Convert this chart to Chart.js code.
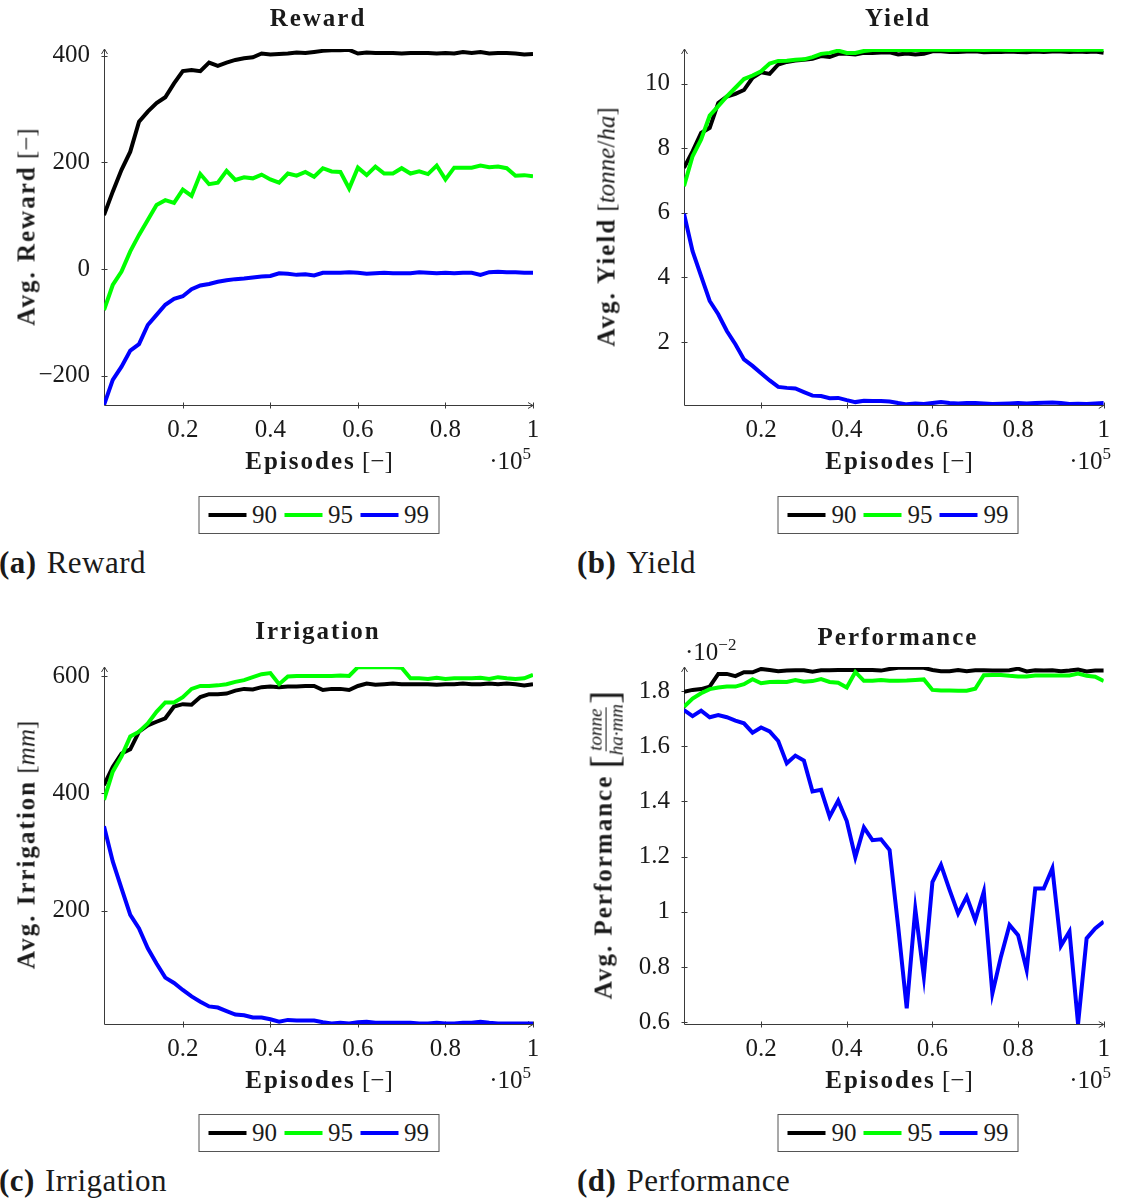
<!DOCTYPE html>
<html>
<head>
<meta charset="utf-8">
<script src="https://cdn.jsdelivr.net/npm/chart.js@4.4.1/dist/chart.umd.min.js"></script>
<style>
  body { margin: 0; background: #fff; width: 1121px; height: 1198px; position: relative; overflow: hidden;
         font-family: "Liberation Serif", "DejaVu Serif", serif; color: #1a1a1a; }
  canvas { position: absolute; }
  .t { position: absolute; white-space: nowrap; line-height: 1; font-size: 25px; }
  .c { transform: translate(-50%, -50%); }
  .b { font-weight: bold; letter-spacing: 2px; }
  .rot { transform: translate(-50%, -50%) rotate(-90deg); }
  .r { transform: translate(-100%, -50%); }
  .l { transform: translate(0, -50%); }
  sup { font-size: 17px; vertical-align: 10px; line-height: 0; }
  .legend { position: absolute; transform: translateX(-50%); border: 1px solid #555; background: #fff; height: 38px;
            box-sizing: border-box; display: flex; align-items: center; padding: 0 9px; font-size: 25px; white-space: nowrap; }
  .legend .sw { width: 38px; height: 4px; margin-right: 6px; }
  .legend .lb { margin-right: 7px; }
  .legend .lb:last-child { margin-right: 0; }
  .cap { position: absolute; font-size: 31px; line-height: 1; transform: translateY(-50%); white-space: nowrap; letter-spacing: 0.5px; }
  .cap b { margin-right: 10px; }
  .frac { display: inline-flex; flex-direction: column; align-items: center; font-size: 19px; font-style: italic;
          vertical-align: middle; line-height: 1.05; }
  .frac span:first-child { border-bottom: 1px solid #1a1a1a; padding: 0 1px; }
  .big { font-size: 40px; vertical-align: middle; font-weight: 300; }
</style>
</head>
<body>

<!-- (a) Reward -->
<canvas id="chartReward" width="560" height="450" style="left:0;top:0"></canvas>
<div class="t c b" style="left:318px;top:17px">Reward</div>
<div class="t rot" style="left:26px;top:227px"><span class="b">Avg. Reward</span> [−]</div>
<div class="t c" style="left:319px;top:460px"><span class="b">Episodes</span> [−]</div>
<div class="t r" style="left:531px;top:460px">·10<sup>5</sup></div>
<div class="cap" style="left:-1px;top:562px"><b>(a)</b>Reward</div>

<!-- (b) Yield -->
<canvas id="chartYield" width="560" height="450" style="left:560px;top:0"></canvas>
<div class="t c b" style="left:898px;top:17px">Yield</div>
<div class="t rot" style="left:606px;top:227px"><span class="b">Avg. Yield</span> [<i>tonne</i>/<i>ha</i>]</div>
<div class="t c" style="left:899px;top:460px"><span class="b">Episodes</span> [−]</div>
<div class="t r" style="left:1111px;top:460px">·10<sup>5</sup></div>
<div class="cap" style="left:577px;top:562px"><b>(b)</b>Yield</div>

<!-- (c) Irrigation -->
<canvas id="chartIrrigation" width="560" height="451" style="left:0;top:618px"></canvas>
<div class="t c b" style="left:318px;top:630px">Irrigation</div>
<div class="t rot" style="left:26px;top:845px"><span class="b">Avg. Irrigation</span> [<i>mm</i>]</div>
<div class="t c" style="left:319px;top:1079px"><span class="b">Episodes</span> [−]</div>
<div class="t r" style="left:531px;top:1079px">·10<sup>5</sup></div>
<div class="cap" style="left:-1px;top:1180px"><b>(c)</b>Irrigation</div>

<!-- (d) Performance -->
<canvas id="chartPerformance" width="560" height="451" style="left:560px;top:618px"></canvas>
<div class="t c b" style="left:898px;top:636px">Performance</div>
<div class="t l" style="left:685px;top:651px">·10<sup>−2</sup></div>
<div class="t rot" style="left:606px;top:845px"><span class="b">Avg. Performance</span> <span class="big">[</span><span class="frac"><span>tonne</span><span>ha·mm</span></span><span class="big">]</span></div>
<div class="t c" style="left:899px;top:1079px"><span class="b">Episodes</span> [−]</div>
<div class="t r" style="left:1111px;top:1079px">·10<sup>5</sup></div>
<div class="cap" style="left:577px;top:1180px"><b>(d)</b>Performance</div>

<script>
"use strict"

// episodes (x 10^5)
const episodes = [0.02, 0.04, 0.06, 0.08, 0.10, 0.12, 0.14, 0.16, 0.18, 0.20,
                  0.22, 0.24, 0.26, 0.28, 0.30, 0.32, 0.34, 0.36, 0.38, 0.40,
                  0.42, 0.44, 0.46, 0.48, 0.50, 0.52, 0.54, 0.56, 0.58, 0.60,
                  0.62, 0.64, 0.66, 0.68, 0.70, 0.72, 0.74, 0.76, 0.78, 0.80,
                  0.82, 0.84, 0.86, 0.88, 0.90, 0.92, 0.94, 0.96, 0.98, 1.00];

const seriesNames = ['90', '95', '99'];
const seriesColors = ['#000000', '#00ff00', '#0000ff'];

const reward90 = [101, 145, 186, 220, 276, 295, 311, 322, 348, 371, 373, 371, 387, 381, 387, 392, 395, 397, 404, 402,
                  403, 404, 406, 405, 407, 409, 410, 410, 411, 404, 406, 405, 405, 405, 404, 405, 405, 405, 404, 405,
                  404, 407, 405, 407, 404, 405, 405, 404, 402, 403];
const reward95 = [-77, -30, -5, 33, 64, 92, 120, 129, 124, 149, 137, 178, 159, 162, 184, 167, 172, 170, 177, 168,
                  162, 179, 175, 182, 173, 189, 183, 182, 151, 190, 176, 192, 179, 179, 189, 179, 183, 178, 194, 168,
                  190, 190, 190, 194, 191, 192, 189, 175, 176, 174];
const reward99 = [-255, -208, -183, -153, -141, -105, -86, -67, -56, -51, -38, -31, -28, -24, -21, -19, -18, -16, -14, -13,
                  -8, -9, -11, -10, -12, -7, -7, -7, -6, -7, -9, -8, -7, -8, -8, -8, -6, -7, -8, -7,
                  -8, -7, -7, -11, -6, -5, -6, -6, -7, -7];

const yield90 = [7.39, 7.9, 8.47, 8.63, 9.4, 9.6, 9.68, 9.8, 10.18, 10.35, 10.3, 10.59, 10.67, 10.71, 10.74, 10.77, 10.85, 10.82, 10.92, 10.92,
                 10.9, 10.95, 10.95, 10.96, 10.97, 10.9, 10.93, 10.9, 10.92, 11.0, 11.0, 10.98, 10.98, 10.99, 11.0, 10.97, 10.98, 10.98, 10.99, 10.98,
                 10.97, 10.99, 10.98, 10.99, 10.99, 10.98, 10.99, 10.98, 10.99, 10.95];
const yield95 = [6.82, 7.75, 8.27, 9.01, 9.3, 9.6, 9.87, 10.14, 10.25, 10.38, 10.62, 10.7, 10.71, 10.74, 10.75, 10.82, 10.92, 10.95, 11.02, 10.95,
                 10.95, 11.01, 11.04, 11.04, 11.04, 11.04, 11.03, 11.04, 11.04, 11.05, 11.05, 11.04, 11.05, 11.05, 11.05, 11.04, 11.05, 11.05, 11.04, 11.04,
                 11.05, 11.05, 11.04, 11.05, 11.05, 11.05, 11.04, 11.05, 11.05, 11.05];
const yield99 = [5.97, 4.81, 4.04, 3.27, 2.86, 2.34, 1.93, 1.46, 1.26, 1.03, 0.81, 0.61, 0.58, 0.56, 0.45, 0.34, 0.33, 0.26, 0.27, 0.2,
                 0.14, 0.18, 0.17, 0.17, 0.16, 0.11, 0.07, 0.1, 0.08, 0.11, 0.14, 0.11, 0.1, 0.11, 0.11, 0.1, 0.08, 0.09, 0.1, 0.11,
                 0.1, 0.11, 0.12, 0.13, 0.11, 0.08, 0.09, 0.08, 0.1, 0.11];

const irrigation90 = [414, 445, 468, 475, 505, 516, 522, 528, 548, 552, 551, 564, 569, 569, 570, 575, 578, 577, 581, 582,
                      581, 582, 582, 583, 583, 576, 578, 578, 576, 583, 587, 585, 586, 587, 586, 586, 586, 586, 585, 586,
                      586, 587, 586, 586, 587, 586, 587, 586, 584, 586];
const irrigation95 = [389, 437, 463, 497, 505, 519, 539, 555, 555, 564, 578, 583, 583, 584, 586, 590, 593, 598, 603, 605,
                      586, 599, 600, 600, 600, 600, 600, 601, 600, 615, 615, 615, 615, 615, 614, 596, 596, 595, 597, 595,
                      596, 596, 596, 597, 595, 598, 596, 595, 596, 602];
const irrigation99 = [344, 284, 238, 193, 170, 136, 110, 86, 77, 65, 54, 45, 37, 35, 29, 23, 22, 18, 18, 15,
                      11, 14, 13, 13, 13, 10, 8, 9, 8, 10, 11, 9, 9, 9, 9, 9, 8, 8, 9, 8,
                      8, 9, 9, 11, 9, 8, 8, 8, 8, 8];

// performance (x 10^-2)
const performance90 = [1.797, 1.804, 1.807, 1.816, 1.862, 1.862, 1.854, 1.868, 1.868, 1.880, 1.876, 1.872, 1.874, 1.875, 1.875, 1.870, 1.875, 1.875, 1.876, 1.876,
                       1.876, 1.876, 1.876, 1.874, 1.880, 1.884, 1.884, 1.884, 1.884, 1.876, 1.872, 1.872, 1.876, 1.872, 1.875, 1.875, 1.874, 1.874, 1.875, 1.881,
                       1.871, 1.875, 1.874, 1.875, 1.872, 1.874, 1.878, 1.871, 1.874, 1.874];
const performance95 = [1.743, 1.773, 1.792, 1.807, 1.813, 1.816, 1.816, 1.825, 1.843, 1.828, 1.833, 1.834, 1.833, 1.840, 1.834, 1.836, 1.843, 1.833, 1.830, 1.813,
                       1.869, 1.837, 1.837, 1.840, 1.837, 1.837, 1.838, 1.840, 1.842, 1.804, 1.802, 1.802, 1.801, 1.801, 1.808, 1.857, 1.858, 1.858, 1.855, 1.853,
                       1.853, 1.856, 1.856, 1.856, 1.856, 1.856, 1.863, 1.855, 1.852, 1.836];
const performance99 = [1.731, 1.709, 1.729, 1.705, 1.713, 1.705, 1.693, 1.683, 1.649, 1.668, 1.654, 1.619, 1.538, 1.566, 1.548, 1.436, 1.442, 1.345, 1.403, 1.329,
                       1.198, 1.306, 1.26, 1.263, 1.224, 0.947, 0.651, 1.01, 0.766, 1.108, 1.17, 1.08, 0.994, 1.055, 0.97, 1.073, 0.705, 0.838, 0.953, 0.916,
                       0.79, 1.085, 1.085, 1.158, 0.877, 0.929, 0.594, 0.904, 0.94, 0.965];

// tick labels
const xTicks = [0.2, 0.4, 0.6, 0.8, 1];
const rewardTicks = [-200, 0, 200, 400];
const yieldTicks = [2, 4, 6, 8, 10];
const irrigationTicks = [200, 400, 600];
const performanceTicks = [0.6, 0.8, 1, 1.2, 1.4, 1.6, 1.8];

Chart.defaults.font.family = '"Liberation Serif", "DejaVu Serif", serif';
Chart.defaults.font.size = 25;
Chart.defaults.color = '#1a1a1a';

const fmt = v => String(+v.toFixed(3)).replace('-', '−');

// axis lines with arrow tips and crossing ticks, pgfplots style
const pgfAxes = {
    id: 'pgfAxes',
    beforeDatasetsDraw(chart) {
        const { ctx, chartArea: a, scales: { x, y } } = chart;
        const L = Math.round(a.left) + 0.5;
        const B = Math.round(a.bottom) + 0.5;
        ctx.save();
        ctx.strokeStyle = '#3a3a3a';
        ctx.lineWidth = 1;
        ctx.beginPath();
        ctx.moveTo(L, B); ctx.lineTo(a.right, B);
        ctx.moveTo(L, B); ctx.lineTo(L, a.top);
        x.ticks.forEach(t => {
            const px = Math.round(x.getPixelForValue(t.value)) + 0.5;
            ctx.moveTo(px, B - 3); ctx.lineTo(px, B + 3);
        });
        y.ticks.forEach(t => {
            const py = Math.round(y.getPixelForValue(t.value)) + 0.5;
            ctx.moveTo(L - 3, py); ctx.lineTo(L + 3, py);
        });
        // arrow heads
        ctx.moveTo(a.right - 5, B - 3); ctx.lineTo(a.right, B); ctx.lineTo(a.right - 5, B + 3);
        ctx.moveTo(L - 3, a.top + 5); ctx.lineTo(L, a.top); ctx.lineTo(L + 3, a.top + 5);
        ctx.stroke();
        ctx.restore();
    }
};

function crearGrafico(id, series, yMin, yMax, yTicks, yWidth, padRight) {
    const datasets = series.map((values, i) => ({
        label: seriesNames[i],
        data: episodes.map((ep, k) => ({ x: ep, y: values[k] })),
        borderColor: seriesColors[i],
        backgroundColor: seriesColors[i],
        borderWidth: 4,
        pointRadius: 0,
        tension: 0,
        order: 3 - i
    }));

    return new Chart(document.getElementById(id), {
        type: 'line',
        data: { datasets },
        options: {
            responsive: false,
            animation: false,
            layout: { padding: { top: 49, right: padRight, left: 0, bottom: 0 } },
            plugins: { legend: { display: false }, tooltip: { enabled: false }, title: { display: false } },
            scales: {
                x: {
                    type: 'linear', min: 0.02, max: 1,
                    grid: { display: false, drawTicks: false },
                    border: { display: false },
                    ticks: { padding: 10, autoSkip: false, maxRotation: 0, callback: fmt },
                    afterBuildTicks: s => { s.ticks = xTicks.map(v => ({ value: v })); },
                    afterFit: s => { s.height = 45; }
                },
                y: {
                    type: 'linear', min: yMin, max: yMax,
                    grid: { display: false, drawTicks: false },
                    border: { display: false },
                    ticks: { padding: 14, autoSkip: false, callback: fmt },
                    afterBuildTicks: s => { s.ticks = yTicks.map(v => ({ value: v })); },
                    afterFit: s => { s.width = yWidth; }
                }
            }
        },
        plugins: [pgfAxes]
    });
}

function crearLeyenda(center, top) {
    const box = document.createElement('div');
    box.className = 'legend';
    box.style.left = center + 'px';
    box.style.top = top + 'px';
    seriesNames.forEach((name, i) => {
        box.insertAdjacentHTML('beforeend',
            `<span class="sw" style="background:${seriesColors[i]}"></span><span class="lb">${name}</span>`);
    });
    document.body.appendChild(box);
}

crearGrafico('chartReward', [reward90, reward95, reward99], -255, 412.5, rewardTicks, 104, 27);
crearGrafico('chartYield', [yield90, yield95, yield99], 0.05, 11.07, yieldTicks, 124, 8);
crearGrafico('chartIrrigation', [irrigation90, irrigation95, irrigation99], 7, 615.3, irrigationTicks, 104, 27);
crearGrafico('chartPerformance', [performance90, performance95, performance99], 0.594, 1.887, performanceTicks, 124, 8);

crearLeyenda(318.5, 496);
crearLeyenda(898, 496);
crearLeyenda(318.5, 1114);
crearLeyenda(898, 1114);
</script>
</body>
</html>
